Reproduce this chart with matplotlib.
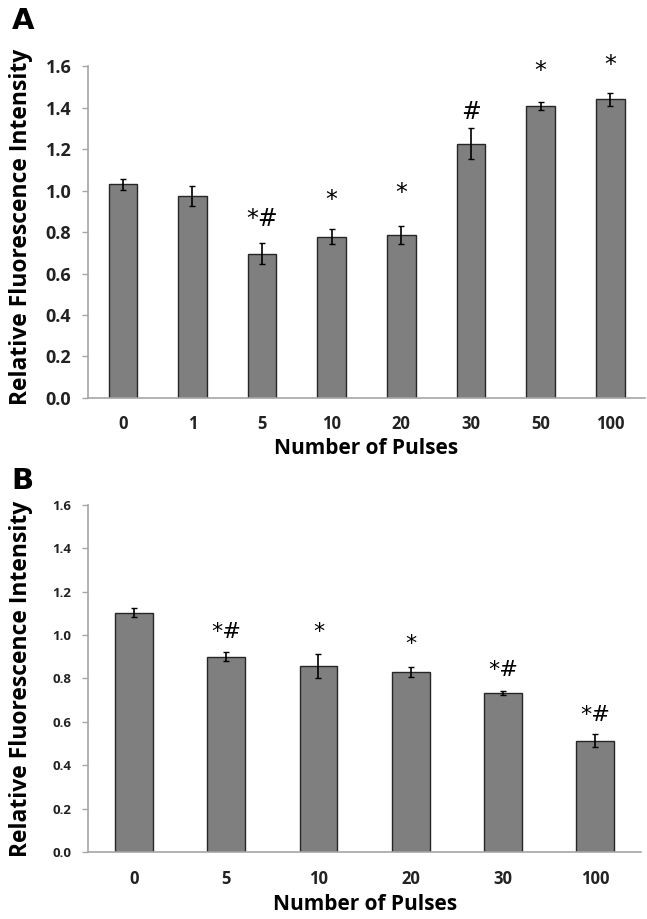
import matplotlib
matplotlib.use("Agg")
import matplotlib.pyplot as plt
import numpy as np

# panel A
pulses_a = ['0', '1', '5', '10', '20', '30', '50', '100']
rfi_a = [1.03, 0.974, 0.696, 0.777, 0.786, 1.227, 1.406, 1.44]
err_a = [0.025, 0.047, 0.05, 0.036, 0.043, 0.075, 0.019, 0.033]
marks_a = ['', '', '*#', '*', '*', '#', '*', '*']
mark_y_a = [0, 0, 0.865, 0.955, 0.988, 1.38, 1.575, 1.605]

# panel B
pulses_b = ['0', '5', '10', '20', '30', '100']
rfi_b = [1.104, 0.901, 0.858, 0.829, 0.732, 0.512]
err_b = [0.02, 0.021, 0.057, 0.022, 0.01, 0.03]
marks_b = ['', '*#', '*', '*', '*#', '*#']
mark_y_b = [0, 1.013, 1.013, 0.96, 0.838, 0.633]

plt.rcParams['font.family'] = ['Open Sans', 'DejaVu Sans']
plt.rcParams['font.weight'] = 'bold'

fig = plt.figure(figsize=(6.47, 9.19), dpi=100)
axA = fig.add_axes([0.136, 0.567, 0.861, 0.361])
axB = fig.add_axes([0.136, 0.073, 0.855, 0.3775])

bar_color = '#7f7f7f'
edge_color = '#262626'
axis_color = '#a6a6a6'


def draw_panel(ax, cats, vals, errs, marks, mark_y, tick_fs, mark_fs, xpad):
    x = np.arange(len(cats))
    ax.bar(x, vals, width=0.41, color=bar_color, edgecolor=edge_color, linewidth=1.0, zorder=2)
    ax.errorbar(x, vals, yerr=errs, fmt='none', ecolor='black', elinewidth=1.2,
                capsize=2, capthick=1.0, zorder=3)
    for xi, m, my in zip(x, marks, mark_y):
        if m:
            ax.text(xi, my, m, ha='center', va='center', fontsize=mark_fs,
                    fontweight='normal', family='DejaVu Sans', clip_on=False)
    ax.set_xlim(-0.5, len(cats) - 0.5)
    ax.set_ylim(0, 1.6)
    ax.set_yticks(np.arange(0, 1.61, 0.2))
    ax.set_yticklabels([f'{v:.1f}' for v in np.arange(0, 1.61, 0.2)], fontsize=tick_fs,
                       fontweight='bold', color='#222222')
    ax.set_xticks(x)
    ax.set_xticklabels(cats, fontsize=12, fontweight='bold', color='#222222')
    ax.tick_params(axis='x', length=0, pad=xpad)
    ax.tick_params(axis='y', length=4, width=1, color=axis_color, pad=8)
    for s in ['top', 'right']:
        ax.spines[s].set_visible(False)
    for s in ['left', 'bottom']:
        ax.spines[s].set_color(axis_color)
        ax.spines[s].set_linewidth(1.2)
    ax.set_xlabel('Number of Pulses', fontsize=15, fontweight='bold', labelpad=4)
    ax.set_ylabel('Relative Fluorescence Intensity', fontsize=16.5, fontweight='bold')


draw_panel(axA, pulses_a, rfi_a, err_a, marks_a, mark_y_a, 13, 17, 12)
draw_panel(axB, pulses_b, rfi_b, err_b, marks_b, mark_y_b, 9.5, 16, 13)
axA.yaxis.set_label_coords(-0.099, 0.517)
axB.yaxis.set_label_coords(-0.099, 0.499)

fig.text(0.018, 0.977, 'A', fontsize=21, fontweight='bold', family='DejaVu Sans', va='center')
fig.text(0.018, 0.4766, 'B', fontsize=21, fontweight='bold', family='DejaVu Sans', va='center')

fig.savefig('out.png', dpi=100)
